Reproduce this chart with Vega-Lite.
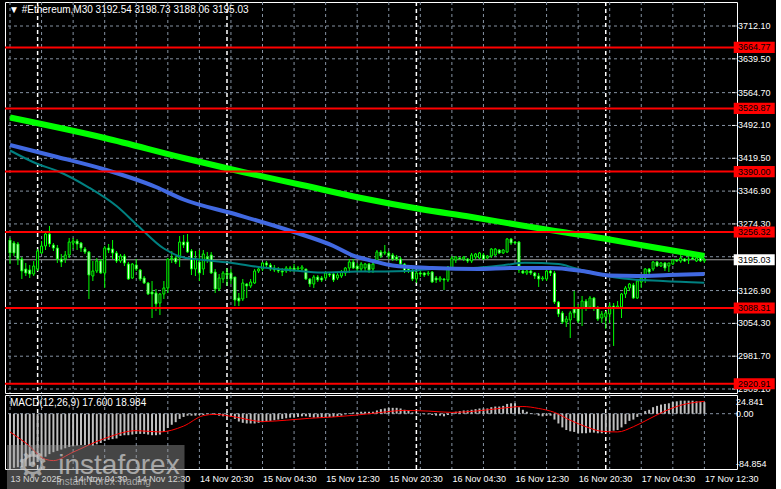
{
"$schema":"https://vega.github.io/schema/vega-lite/v6.json",
"background":"#000000",
"padding":{"left":3,"top":0,"right":0,"bottom":0},
"spacing":2,
"bounds":"flush",
"config":{
 "view":{"stroke":"#ffffff","strokeWidth":1},
 "axis":{"labelFont":"Liberation Sans","labelFontSize":9,"labelColor":"#ffffff","tickColor":"#ffffff","domain":false,"grid":false,"labelOverlap":false}
},
"datasets":{
 "days":[{"t":"2025-11-14T00:00"},{"t":"2025-11-15T00:00"},{"t":"2025-11-16T00:00"},{"t":"2025-11-17T00:00"}],
 "vgrid":[{"t":"2025-11-13T20:30"},{"t":"2025-11-14T00:30"},{"t":"2025-11-14T04:30"},{"t":"2025-11-14T08:30"},{"t":"2025-11-14T12:30"},{"t":"2025-11-14T16:30"},{"t":"2025-11-14T20:30"},{"t":"2025-11-15T00:30"},{"t":"2025-11-15T04:30"},{"t":"2025-11-15T08:30"},{"t":"2025-11-15T12:30"},{"t":"2025-11-15T16:30"},{"t":"2025-11-15T20:30"},{"t":"2025-11-16T00:30"},{"t":"2025-11-16T04:30"},{"t":"2025-11-16T08:30"},{"t":"2025-11-16T12:30"},{"t":"2025-11-16T16:30"},{"t":"2025-11-16T20:30"},{"t":"2025-11-17T00:30"},{"t":"2025-11-17T04:30"},{"t":"2025-11-17T08:30"},{"t":"2025-11-17T12:30"}],
 "hgrid":[{"p":3712.1},{"p":3639.5},{"p":3564.7},{"p":3492.1},{"p":3419.5},{"p":3346.9},{"p":3274.3},{"p":3201.7},{"p":3126.9},{"p":3054.3},{"p":2981.7},{"p":2909.1}],
 "levels":[{"p":3664.77},{"p":3529.87},{"p":3390.00},{"p":3256.32},{"p":3088.31},{"p":2920.91}],
 "bid":[{"p":3195.03}],
 "ma":[
  {"t":"2025-11-13T20:30","k":"slow","v":3509.7},{"t":"2025-11-14T08:30","k":"slow","v":3464.4},{"t":"2025-11-14T18:30","k":"slow","v":3420.1},{"t":"2025-11-15T02:00","k":"slow","v":3389.1},{"t":"2025-11-15T09:30","k":"slow","v":3360.4},{"t":"2025-11-15T17:00","k":"slow","v":3331.6},{"t":"2025-11-16T00:30","k":"slow","v":3307.3},{"t":"2025-11-16T07:00","k":"slow","v":3289.6},{"t":"2025-11-16T13:00","k":"slow","v":3271.9},{"t":"2025-11-16T18:30","k":"slow","v":3256.4},{"t":"2025-11-17T00:30","k":"slow","v":3239.8},{"t":"2025-11-17T05:30","k":"slow","v":3224.4},{"t":"2025-11-17T12:30","k":"slow","v":3203.3},
  {"t":"2025-11-13T20:30","k":"mid","v":3448.9},{"t":"2025-11-14T02:30","k":"mid","v":3422.3},{"t":"2025-11-14T08:30","k":"mid","v":3394.7},{"t":"2025-11-14T15:00","k":"mid","v":3356.0},{"t":"2025-11-14T18:30","k":"mid","v":3328.3},{"t":"2025-11-15T01:00","k":"mid","v":3296.2},{"t":"2025-11-15T08:30","k":"mid","v":3256.4},{"t":"2025-11-15T13:30","k":"mid","v":3225.5},{"t":"2025-11-15T16:00","k":"mid","v":3204.4},{"t":"2025-11-15T18:30","k":"mid","v":3192.3},{"t":"2025-11-15T21:00","k":"mid","v":3182.3},{"t":"2025-11-16T02:00","k":"mid","v":3176.8},{"t":"2025-11-16T08:00","k":"mid","v":3174.6},{"t":"2025-11-16T12:00","k":"mid","v":3176.8},{"t":"2025-11-16T17:00","k":"mid","v":3176.8},{"t":"2025-11-16T21:00","k":"mid","v":3170.2},{"t":"2025-11-17T00:30","k":"mid","v":3160.2},{"t":"2025-11-17T04:00","k":"mid","v":3159.1},{"t":"2025-11-17T08:00","k":"mid","v":3161.3},{"t":"2025-11-17T12:30","k":"mid","v":3163.5},
  {"t":"2025-11-13T20:30","k":"fast","v":3436.7},{"t":"2025-11-14T00:00","k":"fast","v":3406.8},{"t":"2025-11-14T02:30","k":"fast","v":3391.4},{"t":"2025-11-14T06:30","k":"fast","v":3354.8},{"t":"2025-11-14T10:00","k":"fast","v":3313.9},{"t":"2025-11-14T12:45","k":"fast","v":3269.7},{"t":"2025-11-14T16:00","k":"fast","v":3219.9},{"t":"2025-11-14T18:30","k":"fast","v":3200.0},{"t":"2025-11-14T20:30","k":"fast","v":3195.6},{"t":"2025-11-15T00:15","k":"fast","v":3188.9},{"t":"2025-11-15T04:30","k":"fast","v":3177.9},{"t":"2025-11-15T08:30","k":"fast","v":3171.3},{"t":"2025-11-15T12:00","k":"fast","v":3166.8},{"t":"2025-11-15T16:30","k":"fast","v":3169.0},{"t":"2025-11-15T20:00","k":"fast","v":3169.0},{"t":"2025-11-15T23:00","k":"fast","v":3170.1},{"t":"2025-11-16T02:15","k":"fast","v":3175.2},{"t":"2025-11-16T07:45","k":"fast","v":3177.5},{"t":"2025-11-16T11:00","k":"fast","v":3182.8},{"t":"2025-11-16T13:45","k":"fast","v":3188.5},{"t":"2025-11-16T18:00","k":"fast","v":3185.6},{"t":"2025-11-16T20:00","k":"fast","v":3176.8},{"t":"2025-11-16T22:00","k":"fast","v":3166.8},{"t":"2025-11-17T02:15","k":"fast","v":3153.6},{"t":"2025-11-17T07:15","k":"fast","v":3148.0},{"t":"2025-11-17T12:30","k":"fast","v":3144.3}
 ],
 "sig":[
  {"t":"2025-11-13T20:30","s":-28},{"t":"2025-11-13T22:30","s":-45},{"t":"2025-11-14T01:00","s":-70},{"t":"2025-11-14T02:00","s":-72},{"t":"2025-11-14T04:30","s":-59},{"t":"2025-11-14T08:30","s":-38},{"t":"2025-11-14T12:30","s":-26},{"t":"2025-11-14T15:30","s":-28},{"t":"2025-11-14T18:30","s":-19},{"t":"2025-11-14T21:00","s":-3},{"t":"2025-11-14T22:30","s":-1},{"t":"2025-11-15T01:00","s":-5},{"t":"2025-11-15T04:30","s":-12},{"t":"2025-11-15T07:30","s":-10},{"t":"2025-11-15T10:30","s":-7},{"t":"2025-11-15T13:30","s":-5},{"t":"2025-11-15T16:30","s":-2},{"t":"2025-11-15T19:30","s":2},{"t":"2025-11-15T22:30","s":5},{"t":"2025-11-16T01:30","s":4},{"t":"2025-11-16T04:30","s":2},{"t":"2025-11-16T07:30","s":4},{"t":"2025-11-16T10:30","s":8},{"t":"2025-11-16T13:30","s":11},{"t":"2025-11-16T15:30","s":8},{"t":"2025-11-16T17:30","s":2},{"t":"2025-11-16T19:30","s":-10},{"t":"2025-11-16T21:30","s":-20},{"t":"2025-11-16T23:30","s":-27},{"t":"2025-11-17T01:30","s":-28},{"t":"2025-11-17T03:30","s":-20},{"t":"2025-11-17T05:30","s":-8},{"t":"2025-11-17T07:30","s":4},{"t":"2025-11-17T09:30","s":13},{"t":"2025-11-17T12:30","s":18.984}
 ],
 "bars":[
{"t":"2025-11-13T20:30","o":3238.7,"h":3243.2,"l":3185.6,"c":3210.0,"m":-84.8},
{"t":"2025-11-13T21:00","o":3232.1,"h":3236.5,"l":3203.3,"c":3210.0,"m":-83},
{"t":"2025-11-13T21:30","o":3229.9,"h":3234.3,"l":3183.4,"c":3196.7,"m":-82},
{"t":"2025-11-13T22:00","o":3196.7,"h":3201.1,"l":3152.5,"c":3170.2,"m":-82},
{"t":"2025-11-13T22:30","o":3174.6,"h":3187.9,"l":3159.1,"c":3165.7,"m":-81},
{"t":"2025-11-13T23:00","o":3172.4,"h":3183.4,"l":3154.7,"c":3163.5,"m":-80},
{"t":"2025-11-13T23:30","o":3163.5,"h":3192.3,"l":3159.1,"c":3181.2,"m":-78},
{"t":"2025-11-14T00:00","o":3174.6,"h":3218.8,"l":3170.2,"c":3214.4,"m":-74},
{"t":"2025-11-14T00:30","o":3210.0,"h":3236.5,"l":3207.8,"c":3225.5,"m":-70},
{"t":"2025-11-14T01:00","o":3225.5,"h":3258.6,"l":3216.6,"c":3252.0,"m":-66},
{"t":"2025-11-14T01:30","o":3252.0,"h":3269.7,"l":3223.2,"c":3229.9,"m":-62},
{"t":"2025-11-14T02:00","o":3227.7,"h":3232.1,"l":3214.4,"c":3221.0,"m":-59},
{"t":"2025-11-14T02:30","o":3221.0,"h":3227.7,"l":3187.9,"c":3196.7,"m":-57},
{"t":"2025-11-14T03:00","o":3196.7,"h":3207.8,"l":3179.0,"c":3190.1,"m":-55},
{"t":"2025-11-14T03:30","o":3196.7,"h":3214.4,"l":3187.9,"c":3205.6,"m":-53},
{"t":"2025-11-14T04:00","o":3205.6,"h":3243.2,"l":3198.9,"c":3234.3,"m":-51},
{"t":"2025-11-14T04:30","o":3232.1,"h":3243.2,"l":3218.8,"c":3236.5,"m":-50},
{"t":"2025-11-14T05:00","o":3236.5,"h":3241.0,"l":3216.6,"c":3229.9,"m":-49},
{"t":"2025-11-14T05:30","o":3232.1,"h":3234.3,"l":3212.2,"c":3221.0,"m":-48},
{"t":"2025-11-14T06:00","o":3218.8,"h":3223.2,"l":3207.8,"c":3212.2,"m":-48},
{"t":"2025-11-14T06:30","o":3212.2,"h":3214.4,"l":3108.2,"c":3161.3,"m":-48},
{"t":"2025-11-14T07:00","o":3159.1,"h":3192.3,"l":3148.0,"c":3170.2,"m":-49},
{"t":"2025-11-14T07:30","o":3170.2,"h":3198.9,"l":3165.7,"c":3192.3,"m":-47},
{"t":"2025-11-14T08:00","o":3192.3,"h":3196.7,"l":3163.5,"c":3165.7,"m":-45},
{"t":"2025-11-14T08:30","o":3165.7,"h":3225.5,"l":3132.6,"c":3221.0,"m":-42},
{"t":"2025-11-14T09:00","o":3221.0,"h":3229.9,"l":3210.0,"c":3216.6,"m":-40},
{"t":"2025-11-14T09:30","o":3218.8,"h":3238.7,"l":3196.7,"c":3210.0,"m":-39},
{"t":"2025-11-14T10:00","o":3210.0,"h":3214.4,"l":3187.9,"c":3192.3,"m":-38},
{"t":"2025-11-14T10:30","o":3192.3,"h":3207.8,"l":3187.9,"c":3203.3,"m":-34},
{"t":"2025-11-14T11:00","o":3203.3,"h":3207.8,"l":3181.2,"c":3187.9,"m":-33},
{"t":"2025-11-14T11:30","o":3185.6,"h":3190.1,"l":3150.3,"c":3152.5,"m":-33},
{"t":"2025-11-14T12:00","o":3154.7,"h":3187.9,"l":3152.5,"c":3185.6,"m":-32},
{"t":"2025-11-14T12:30","o":3183.4,"h":3196.7,"l":3170.2,"c":3174.6,"m":-31},
{"t":"2025-11-14T13:00","o":3172.4,"h":3174.6,"l":3148.0,"c":3152.5,"m":-31},
{"t":"2025-11-14T13:30","o":3154.7,"h":3159.1,"l":3141.4,"c":3143.6,"m":-31},
{"t":"2025-11-14T14:00","o":3143.6,"h":3145.8,"l":3117.1,"c":3119.3,"m":-32},
{"t":"2025-11-14T14:30","o":3123.7,"h":3148.0,"l":3066.2,"c":3119.3,"m":-33},
{"t":"2025-11-14T15:00","o":3121.5,"h":3130.3,"l":3081.7,"c":3097.2,"m":-33},
{"t":"2025-11-14T15:30","o":3099.4,"h":3121.5,"l":3072.8,"c":3119.3,"m":-32},
{"t":"2025-11-14T16:00","o":3119.3,"h":3148.0,"l":3108.2,"c":3132.6,"m":-28},
{"t":"2025-11-14T16:30","o":3132.6,"h":3198.9,"l":3121.5,"c":3196.7,"m":-22},
{"t":"2025-11-14T17:00","o":3196.7,"h":3214.4,"l":3187.9,"c":3198.9,"m":-17},
{"t":"2025-11-14T17:30","o":3198.9,"h":3203.3,"l":3185.6,"c":3190.1,"m":-13},
{"t":"2025-11-14T18:00","o":3198.9,"h":3247.6,"l":3179.0,"c":3234.3,"m":-8},
{"t":"2025-11-14T18:30","o":3234.3,"h":3249.8,"l":3221.0,"c":3227.7,"m":-5},
{"t":"2025-11-14T19:00","o":3234.3,"h":3252.0,"l":3210.0,"c":3212.2,"m":-3},
{"t":"2025-11-14T19:30","o":3214.4,"h":3218.8,"l":3161.3,"c":3174.6,"m":-3},
{"t":"2025-11-14T20:00","o":3174.6,"h":3214.4,"l":3159.1,"c":3196.7,"m":-3},
{"t":"2025-11-14T20:30","o":3190.1,"h":3216.6,"l":3148.0,"c":3165.7,"m":-2},
{"t":"2025-11-14T21:00","o":3174.6,"h":3216.6,"l":3161.3,"c":3207.8,"m":-2},
{"t":"2025-11-14T21:30","o":3201.1,"h":3212.2,"l":3187.9,"c":3196.7,"m":-1},
{"t":"2025-11-14T22:00","o":3205.6,"h":3212.2,"l":3163.5,"c":3165.7,"m":-1},
{"t":"2025-11-14T22:30","o":3167.9,"h":3174.6,"l":3121.5,"c":3130.3,"m":-2},
{"t":"2025-11-14T23:00","o":3130.3,"h":3163.5,"l":3125.9,"c":3154.7,"m":-3},
{"t":"2025-11-14T23:30","o":3152.5,"h":3170.2,"l":3143.6,"c":3165.7,"m":-4},
{"t":"2025-11-15T00:00","o":3165.7,"h":3176.8,"l":3137.0,"c":3161.3,"m":-4},
{"t":"2025-11-15T00:30","o":3165.7,"h":3174.6,"l":3141.4,"c":3152.5,"m":-5},
{"t":"2025-11-15T01:00","o":3156.9,"h":3156.9,"l":3092.7,"c":3106.0,"m":-8},
{"t":"2025-11-15T01:30","o":3110.4,"h":3121.5,"l":3092.7,"c":3103.8,"m":-12},
{"t":"2025-11-15T02:00","o":3108.2,"h":3152.5,"l":3103.8,"c":3143.6,"m":-14},
{"t":"2025-11-15T02:30","o":3141.4,"h":3143.6,"l":3110.4,"c":3137.0,"m":-15},
{"t":"2025-11-15T03:00","o":3137.0,"h":3152.5,"l":3132.6,"c":3145.8,"m":-15},
{"t":"2025-11-15T03:30","o":3143.6,"h":3174.6,"l":3141.4,"c":3170.2,"m":-15},
{"t":"2025-11-15T04:00","o":3170.2,"h":3179.0,"l":3165.7,"c":3174.6,"m":-14},
{"t":"2025-11-15T04:30","o":3174.6,"h":3190.1,"l":3170.2,"c":3187.9,"m":-13},
{"t":"2025-11-15T05:00","o":3187.9,"h":3192.3,"l":3179.0,"c":3183.4,"m":-12},
{"t":"2025-11-15T05:30","o":3183.4,"h":3187.9,"l":3170.2,"c":3174.6,"m":-11},
{"t":"2025-11-15T06:00","o":3176.8,"h":3183.4,"l":3167.9,"c":3172.4,"m":-10},
{"t":"2025-11-15T06:30","o":3174.6,"h":3179.0,"l":3165.7,"c":3170.2,"m":-9},
{"t":"2025-11-15T07:00","o":3170.2,"h":3176.8,"l":3159.1,"c":3167.9,"m":-8},
{"t":"2025-11-15T07:30","o":3170.2,"h":3181.2,"l":3165.7,"c":3176.8,"m":-7},
{"t":"2025-11-15T08:00","o":3174.6,"h":3181.2,"l":3167.9,"c":3176.8,"m":-6},
{"t":"2025-11-15T08:30","o":3176.8,"h":3185.6,"l":3167.9,"c":3172.4,"m":-6},
{"t":"2025-11-15T09:00","o":3174.6,"h":3181.2,"l":3170.2,"c":3176.8,"m":-5},
{"t":"2025-11-15T09:30","o":3174.6,"h":3183.4,"l":3170.2,"c":3179.0,"m":-4},
{"t":"2025-11-15T10:00","o":3174.6,"h":3174.6,"l":3150.3,"c":3152.5,"m":-4},
{"t":"2025-11-15T10:30","o":3152.5,"h":3154.7,"l":3134.8,"c":3141.4,"m":-5},
{"t":"2025-11-15T11:00","o":3141.4,"h":3161.3,"l":3132.6,"c":3156.9,"m":-6},
{"t":"2025-11-15T11:30","o":3156.9,"h":3161.3,"l":3145.8,"c":3150.3,"m":-6},
{"t":"2025-11-15T12:00","o":3154.7,"h":3159.1,"l":3145.8,"c":3150.3,"m":-6},
{"t":"2025-11-15T12:30","o":3154.7,"h":3170.2,"l":3150.3,"c":3165.7,"m":-6},
{"t":"2025-11-15T13:00","o":3163.5,"h":3167.9,"l":3156.9,"c":3161.3,"m":-5},
{"t":"2025-11-15T13:30","o":3163.5,"h":3165.7,"l":3145.8,"c":3150.3,"m":-5},
{"t":"2025-11-15T14:00","o":3154.7,"h":3165.7,"l":3150.3,"c":3161.3,"m":-4},
{"t":"2025-11-15T14:30","o":3159.1,"h":3172.4,"l":3154.7,"c":3167.9,"m":-3},
{"t":"2025-11-15T15:00","o":3165.7,"h":3179.0,"l":3159.1,"c":3176.8,"m":-1},
{"t":"2025-11-15T15:30","o":3176.8,"h":3196.7,"l":3165.7,"c":3190.1,"m":1},
{"t":"2025-11-15T16:00","o":3190.1,"h":3196.7,"l":3174.6,"c":3176.8,"m":2},
{"t":"2025-11-15T16:30","o":3181.2,"h":3187.9,"l":3170.2,"c":3174.6,"m":2},
{"t":"2025-11-15T17:00","o":3174.6,"h":3190.1,"l":3170.2,"c":3185.6,"m":3},
{"t":"2025-11-15T17:30","o":3176.8,"h":3187.9,"l":3170.2,"c":3185.6,"m":3},
{"t":"2025-11-15T18:00","o":3185.6,"h":3187.9,"l":3165.7,"c":3172.4,"m":3},
{"t":"2025-11-15T18:30","o":3174.6,"h":3187.9,"l":3165.7,"c":3185.6,"m":3},
{"t":"2025-11-15T19:00","o":3192.3,"h":3216.6,"l":3187.9,"c":3212.2,"m":5},
{"t":"2025-11-15T19:30","o":3212.2,"h":3216.6,"l":3198.9,"c":3203.3,"m":7},
{"t":"2025-11-15T20:00","o":3210.0,"h":3227.7,"l":3205.6,"c":3212.2,"m":8},
{"t":"2025-11-15T20:30","o":3210.0,"h":3214.4,"l":3196.7,"c":3203.3,"m":9},
{"t":"2025-11-15T21:00","o":3205.6,"h":3210.0,"l":3192.3,"c":3196.7,"m":9},
{"t":"2025-11-15T21:30","o":3201.1,"h":3205.6,"l":3192.3,"c":3196.7,"m":9},
{"t":"2025-11-15T22:00","o":3196.7,"h":3201.1,"l":3181.2,"c":3185.6,"m":8},
{"t":"2025-11-15T22:30","o":3185.6,"h":3187.9,"l":3165.7,"c":3170.2,"m":6},
{"t":"2025-11-15T23:00","o":3174.6,"h":3179.0,"l":3165.7,"c":3170.2,"m":5},
{"t":"2025-11-15T23:30","o":3170.2,"h":3174.6,"l":3148.0,"c":3152.5,"m":2},
{"t":"2025-11-16T00:00","o":3152.5,"h":3170.2,"l":3143.6,"c":3165.7,"m":1},
{"t":"2025-11-16T00:30","o":3165.7,"h":3170.2,"l":3156.9,"c":3163.5,"m":0},
{"t":"2025-11-16T01:00","o":3165.7,"h":3167.9,"l":3156.9,"c":3161.3,"m":-1},
{"t":"2025-11-16T01:30","o":3163.5,"h":3170.2,"l":3159.1,"c":3165.7,"m":-1},
{"t":"2025-11-16T02:00","o":3167.9,"h":3170.2,"l":3143.6,"c":3145.8,"m":-2},
{"t":"2025-11-16T02:30","o":3154.7,"h":3159.1,"l":3143.6,"c":3150.3,"m":-3},
{"t":"2025-11-16T03:00","o":3150.3,"h":3159.1,"l":3145.8,"c":3154.7,"m":-3},
{"t":"2025-11-16T03:30","o":3152.5,"h":3154.7,"l":3128.1,"c":3150.3,"m":-4},
{"t":"2025-11-16T04:00","o":3150.3,"h":3181.2,"l":3145.8,"c":3179.0,"m":-2},
{"t":"2025-11-16T04:30","o":3176.8,"h":3203.3,"l":3174.6,"c":3198.9,"m":1},
{"t":"2025-11-16T05:00","o":3194.5,"h":3203.3,"l":3187.9,"c":3201.1,"m":3},
{"t":"2025-11-16T05:30","o":3198.9,"h":3201.1,"l":3194.5,"c":3196.7,"m":4},
{"t":"2025-11-16T06:00","o":3196.7,"h":3203.3,"l":3192.3,"c":3201.1,"m":5},
{"t":"2025-11-16T06:30","o":3196.7,"h":3198.9,"l":3187.9,"c":3192.3,"m":5},
{"t":"2025-11-16T07:00","o":3192.3,"h":3210.0,"l":3187.9,"c":3205.6,"m":6},
{"t":"2025-11-16T07:30","o":3201.1,"h":3210.0,"l":3196.7,"c":3207.8,"m":7},
{"t":"2025-11-16T08:00","o":3198.9,"h":3212.2,"l":3196.7,"c":3210.0,"m":8},
{"t":"2025-11-16T08:30","o":3205.6,"h":3210.0,"l":3194.5,"c":3196.7,"m":8},
{"t":"2025-11-16T09:00","o":3198.9,"h":3205.6,"l":3196.7,"c":3203.3,"m":8},
{"t":"2025-11-16T09:30","o":3203.3,"h":3221.0,"l":3198.9,"c":3218.8,"m":10},
{"t":"2025-11-16T10:00","o":3205.6,"h":3221.0,"l":3203.3,"c":3218.8,"m":11},
{"t":"2025-11-16T10:30","o":3216.6,"h":3218.8,"l":3207.8,"c":3210.0,"m":11},
{"t":"2025-11-16T11:00","o":3210.0,"h":3218.8,"l":3207.8,"c":3216.6,"m":12},
{"t":"2025-11-16T11:30","o":3212.2,"h":3243.2,"l":3210.0,"c":3241.0,"m":15},
{"t":"2025-11-16T12:00","o":3241.0,"h":3243.2,"l":3227.7,"c":3232.1,"m":16},
{"t":"2025-11-16T12:30","o":3234.3,"h":3236.5,"l":3229.9,"c":3232.1,"m":16},
{"t":"2025-11-16T13:00","o":3234.3,"h":3236.5,"l":3165.7,"c":3172.4,"m":10},
{"t":"2025-11-16T13:30","o":3170.2,"h":3174.6,"l":3163.5,"c":3165.7,"m":6},
{"t":"2025-11-16T14:00","o":3165.7,"h":3174.6,"l":3161.3,"c":3170.2,"m":3},
{"t":"2025-11-16T14:30","o":3170.2,"h":3174.6,"l":3161.3,"c":3165.7,"m":1},
{"t":"2025-11-16T15:00","o":3165.7,"h":3167.9,"l":3152.5,"c":3159.1,"m":-1},
{"t":"2025-11-16T15:30","o":3159.1,"h":3165.7,"l":3134.8,"c":3152.5,"m":-3},
{"t":"2025-11-16T16:00","o":3152.5,"h":3159.1,"l":3148.0,"c":3154.7,"m":-4},
{"t":"2025-11-16T16:30","o":3152.5,"h":3174.6,"l":3148.0,"c":3170.2,"m":-3},
{"t":"2025-11-16T17:00","o":3170.2,"h":3172.4,"l":3159.1,"c":3165.7,"m":-3},
{"t":"2025-11-16T17:30","o":3165.7,"h":3170.2,"l":3097.2,"c":3101.6,"m":-9},
{"t":"2025-11-16T18:00","o":3101.6,"h":3103.8,"l":3068.4,"c":3075.0,"m":-15},
{"t":"2025-11-16T18:30","o":3077.3,"h":3081.7,"l":3052.9,"c":3057.3,"m":-21},
{"t":"2025-11-16T19:00","o":3057.3,"h":3070.6,"l":3046.3,"c":3064.0,"m":-25},
{"t":"2025-11-16T19:30","o":3061.8,"h":3081.7,"l":3022.0,"c":3077.3,"m":-27},
{"t":"2025-11-16T20:00","o":3086.1,"h":3125.9,"l":3066.2,"c":3077.3,"m":-28},
{"t":"2025-11-16T20:30","o":3088.3,"h":3097.2,"l":3055.1,"c":3059.6,"m":-30},
{"t":"2025-11-16T21:00","o":3088.3,"h":3114.9,"l":3048.5,"c":3103.8,"m":-30},
{"t":"2025-11-16T21:30","o":3103.8,"h":3108.2,"l":3081.7,"c":3088.3,"m":-30},
{"t":"2025-11-16T22:00","o":3090.5,"h":3114.9,"l":3086.1,"c":3110.4,"m":-29},
{"t":"2025-11-16T22:30","o":3110.4,"h":3112.6,"l":3081.7,"c":3088.3,"m":-29},
{"t":"2025-11-16T23:00","o":3088.3,"h":3092.7,"l":3059.6,"c":3064.0,"m":-30},
{"t":"2025-11-16T23:30","o":3066.2,"h":3081.7,"l":3055.1,"c":3075.0,"m":-30},
{"t":"2025-11-17T00:00","o":3068.4,"h":3081.7,"l":3041.9,"c":3077.3,"m":-29},
{"t":"2025-11-17T00:30","o":3075.0,"h":3099.4,"l":3055.1,"c":3092.7,"m":-27},
{"t":"2025-11-17T01:00","o":3092.7,"h":3099.4,"l":3004.3,"c":3088.3,"m":-26},
{"t":"2025-11-17T01:30","o":3090.5,"h":3103.8,"l":3088.3,"c":3092.7,"m":-25},
{"t":"2025-11-17T02:00","o":3090.5,"h":3121.5,"l":3066.2,"c":3119.3,"m":-21},
{"t":"2025-11-17T02:30","o":3119.3,"h":3137.0,"l":3110.4,"c":3132.6,"m":-16},
{"t":"2025-11-17T03:00","o":3132.6,"h":3143.6,"l":3125.9,"c":3141.4,"m":-11},
{"t":"2025-11-17T03:30","o":3139.2,"h":3143.6,"l":3108.2,"c":3110.4,"m":-9},
{"t":"2025-11-17T04:00","o":3110.4,"h":3152.5,"l":3108.2,"c":3148.0,"m":-5},
{"t":"2025-11-17T04:30","o":3145.8,"h":3159.1,"l":3132.6,"c":3154.7,"m":-1},
{"t":"2025-11-17T05:00","o":3154.7,"h":3176.8,"l":3143.6,"c":3174.6,"m":4},
{"t":"2025-11-17T05:30","o":3174.6,"h":3176.8,"l":3163.5,"c":3167.9,"m":6},
{"t":"2025-11-17T06:00","o":3174.6,"h":3192.3,"l":3170.2,"c":3190.1,"m":10},
{"t":"2025-11-17T06:30","o":3190.1,"h":3192.3,"l":3179.0,"c":3181.2,"m":12},
{"t":"2025-11-17T07:00","o":3181.2,"h":3190.1,"l":3179.0,"c":3187.9,"m":14},
{"t":"2025-11-17T07:30","o":3187.9,"h":3190.1,"l":3170.2,"c":3176.8,"m":15},
{"t":"2025-11-17T08:00","o":3181.2,"h":3187.9,"l":3167.9,"c":3187.9,"m":16},
{"t":"2025-11-17T08:30","o":3185.6,"h":3196.7,"l":3183.4,"c":3194.5,"m":18},
{"t":"2025-11-17T09:00","o":3194.5,"h":3196.7,"l":3190.1,"c":3192.3,"m":19},
{"t":"2025-11-17T09:30","o":3192.3,"h":3205.6,"l":3187.9,"c":3198.9,"m":20},
{"t":"2025-11-17T10:00","o":3196.7,"h":3198.9,"l":3190.1,"c":3192.3,"m":20},
{"t":"2025-11-17T10:30","o":3194.5,"h":3201.1,"l":3185.6,"c":3196.7,"m":20},
{"t":"2025-11-17T11:00","o":3198.9,"h":3201.1,"l":3194.5,"c":3196.7,"m":20},
{"t":"2025-11-17T11:30","o":3192.3,"h":3201.1,"l":3190.1,"c":3198.9,"m":19},
{"t":"2025-11-17T12:00","o":3198.9,"h":3201.1,"l":3190.1,"c":3192.5,"m":18.5},
{"t":"2025-11-17T12:30","o":3192.54,"h":3198.73,"l":3188.06,"c":3195.03,"m":17.6}
 ]
},
"vconcat":[
{
 "width":732,"height":391,
 "title":{"text":"▼ #Ethereum,M30  3192.54 3198.73 3188.06 3195.03","anchor":"start","frame":"group","offset":-14,"dx":4,"fontSize":10,"color":"#ffffff","font":"Liberation Sans, DejaVu Sans","fontWeight":"normal"},
 "layer":[
  {"data":{"name":"vgrid"},"mark":{"type":"rule","color":"#8592a2","strokeDash":[3,3],"strokeWidth":1},
   "encoding":{"x":{"field":"t","type":"temporal","title":null,"scale":{"domain":[{"year":2025,"month":11,"date":13,"hours":20,"minutes":30},{"year":2025,"month":11,"date":17,"hours":16,"minutes":0}],"nice":false},
    "axis":{"labels":false,"ticks":false,"domain":false,"grid":false,"title":null}}}},
  {"data":{"name":"hgrid"},"mark":{"type":"rule","color":"#8592a2","strokeDash":[3,3],"strokeWidth":1},
   "encoding":{"y":{"field":"p","type":"quantitative","title":null,"scale":{"domain":[2900.3,3765.2],"nice":false,"zero":false},
    "axis":{"labels":false,"ticks":false,"domain":false,"grid":false,"title":null}}}},
  {"data":{"name":"hgrid"},"mark":{"type":"rule","color":"#ffffff","strokeWidth":1},
   "encoding":{"x":{"datum":{"year":2025,"month":11,"date":17,"hours":16,"minutes":0},"type":"temporal","title":null},"x2":{"datum":{"year":2025,"month":11,"date":17,"hours":16,"minutes":22}},"y":{"field":"p","type":"quantitative","title":null}}},
  {"data":{"name":"hgrid"},"transform":[{"filter":"datum.p != 3201.7"}],"mark":{"type":"text","align":"left","baseline":"middle","color":"#ffffff","font":"Liberation Sans","fontSize":9},
   "encoding":{"x":{"datum":{"year":2025,"month":11,"date":17,"hours":16,"minutes":45},"type":"temporal","title":null},"y":{"field":"p","type":"quantitative","title":null},"text":{"field":"p","type":"quantitative","format":".2f"}}},
  {"data":{"name":"days"},"mark":{"type":"rule","color":"#ffffff","strokeDash":[4,3],"strokeWidth":1.5},
   "encoding":{"x":{"field":"t","type":"temporal","title":null}}},
  {"data":{"name":"bid"},"mark":{"type":"rule","color":"#a0a0a0","strokeWidth":1},
   "encoding":{"y":{"field":"p","type":"quantitative","title":null}}},
  {"data":{"name":"bars"},"mark":{"type":"rule","color":"#00ff00","strokeWidth":1,"clip":true},
   "encoding":{"x":{"field":"t","type":"temporal","title":null},"y":{"field":"l","type":"quantitative","title":null},"y2":{"field":"h"}}},
  {"data":{"name":"bars"},"mark":{"type":"bar","width":2,"stroke":"#00ff00","strokeWidth":1,"clip":true},
   "encoding":{"x":{"field":"t","type":"temporal","title":null},"y":{"field":"o","type":"quantitative","title":null},"y2":{"field":"c"},
    "fill":{"condition":{"test":"datum.c >= datum.o","value":"#000000"},"value":"#ffffff"}}},
  {"data":{"name":"ma"},"transform":[{"filter":"datum.k == 'fast'"}],"mark":{"type":"line","color":"#008080","strokeWidth":2,"interpolate":"monotone","clip":true},
   "encoding":{"x":{"field":"t","type":"temporal","title":null},"y":{"field":"v","type":"quantitative","title":null}}},
  {"data":{"name":"ma"},"transform":[{"filter":"datum.k == 'mid'"}],"mark":{"type":"line","color":"#4169e1","strokeWidth":4,"interpolate":"monotone","clip":true},
   "encoding":{"x":{"field":"t","type":"temporal","title":null},"y":{"field":"v","type":"quantitative","title":null}}},
  {"data":{"name":"ma"},"transform":[{"filter":"datum.k == 'slow'"}],"mark":{"type":"line","color":"#00ff00","strokeWidth":6,"interpolate":"monotone","clip":true},
   "encoding":{"x":{"field":"t","type":"temporal","title":null},"y":{"field":"v","type":"quantitative","title":null}}},
  {"data":{"name":"levels"},"mark":{"type":"rule","color":"#ff0000","strokeWidth":2},
   "encoding":{"y":{"field":"p","type":"quantitative","title":null}}},
  {"data":{"name":"levels"},"mark":{"type":"point","shape":"M-1,-0.27L1,-0.27L1,0.27L-1,0.27Z","size":1681,"filled":true,"color":"#ff0000","opacity":1,"strokeWidth":0},
   "encoding":{"x":{"datum":{"year":2025,"month":11,"date":17,"hours":18,"minutes":49},"type":"temporal","title":null},"y":{"field":"p","type":"quantitative","title":null}}},
  {"data":{"name":"levels"},"mark":{"type":"text","align":"left","baseline":"middle","color":"#000000","font":"Liberation Sans","fontSize":9},
   "encoding":{"x":{"datum":{"year":2025,"month":11,"date":17,"hours":16,"minutes":45},"type":"temporal","title":null},"y":{"field":"p","type":"quantitative","title":null},"text":{"field":"p","type":"quantitative","format":".2f"}}},
  {"data":{"name":"bid"},"mark":{"type":"point","shape":"M-1,-0.27L1,-0.27L1,0.27L-1,0.27Z","size":1681,"filled":true,"color":"#ffffff","opacity":1,"strokeWidth":0},
   "encoding":{"x":{"datum":{"year":2025,"month":11,"date":17,"hours":18,"minutes":49},"type":"temporal","title":null},"y":{"field":"p","type":"quantitative","title":null}}},
  {"data":{"name":"bid"},"mark":{"type":"text","align":"left","baseline":"middle","color":"#000000","font":"Liberation Sans","fontSize":9},
   "encoding":{"x":{"datum":{"year":2025,"month":11,"date":17,"hours":16,"minutes":45},"type":"temporal","title":null},"y":{"field":"p","type":"quantitative","title":null},"text":{"field":"p","type":"quantitative","format":".2f"}}}
 ]
},
{
 "width":732,"height":74,
 "title":{"text":"MACD(12,26,9) 17.600 18.984","anchor":"start","frame":"group","offset":-14,"dx":5,"fontSize":10,"color":"#ffffff","font":"Liberation Sans","fontWeight":"normal"},
 "layer":[
  {"data":{"name":"vgrid"},"mark":{"type":"rule","color":"#8592a2","strokeDash":[3,3],"strokeWidth":1},
   "encoding":{"x":{"field":"t","type":"temporal","title":null,"scale":{"domain":[{"year":2025,"month":11,"date":13,"hours":20,"minutes":30},{"year":2025,"month":11,"date":17,"hours":16,"minutes":0}],"nice":false},
    "axis":{"values":[{"year":2025,"month":11,"date":13,"hours":20,"minutes":30},{"year":2025,"month":11,"date":14,"hours":4,"minutes":30},{"year":2025,"month":11,"date":14,"hours":12,"minutes":30},{"year":2025,"month":11,"date":14,"hours":20,"minutes":30},{"year":2025,"month":11,"date":15,"hours":4,"minutes":30},{"year":2025,"month":11,"date":15,"hours":12,"minutes":30},{"year":2025,"month":11,"date":15,"hours":20,"minutes":30},{"year":2025,"month":11,"date":16,"hours":4,"minutes":30},{"year":2025,"month":11,"date":16,"hours":12,"minutes":30},{"year":2025,"month":11,"date":16,"hours":20,"minutes":30},{"year":2025,"month":11,"date":17,"hours":4,"minutes":30},{"year":2025,"month":11,"date":17,"hours":12,"minutes":30}],
     "grid":false,"ticks":false,"domain":false,"title":null,"labelAlign":"left","labelPadding":5,"labelFlush":false,"labelOverlap":false,
     "labelExpr":"date(datum.value) == 13 ? '13 Nov 2025' : timeFormat(datum.value, '%d %b %H:%M')"}}}},
  {"data":{"name":"days"},"mark":{"type":"rule","color":"#ffffff","strokeDash":[4,3],"strokeWidth":1.5},
   "encoding":{"x":{"field":"t","type":"temporal","title":null}}},
  {"data":{"values":[{}]},"mark":{"type":"rule","color":"#8592a2","strokeDash":[3,3],"strokeWidth":1},
   "encoding":{"y":{"datum":0,"type":"quantitative","title":null,"scale":{"domain":[-84.854,28.69],"nice":false,"zero":false},
    "axis":{"labels":false,"ticks":false,"domain":false,"grid":false,"title":null}}}},
  {"data":{"name":"bars"},"mark":{"type":"bar","width":2,"color":"#c0c0c0"},
   "encoding":{"x":{"field":"t","type":"temporal","title":null},"y":{"field":"m","type":"quantitative","title":null},"y2":{"datum":0}}},
  {"data":{"name":"sig"},"mark":{"type":"line","color":"#ff0000","strokeWidth":1,"interpolate":"monotone"},
   "encoding":{"x":{"field":"t","type":"temporal","title":null},"y":{"field":"s","type":"quantitative","title":null}}},
  {"data":{"values":[{}]},"mark":{"type":"text","text":"24.841","align":"left","baseline":"top","color":"#ffffff","font":"Liberation Sans","fontSize":9},
   "encoding":{"x":{"datum":{"year":2025,"month":11,"date":17,"hours":16,"minutes":30},"type":"temporal","title":null},"y":{"datum":24.841,"type":"quantitative","title":null}}},
  {"data":{"values":[{}]},"mark":{"type":"text","text":"0.00","align":"left","baseline":"middle","color":"#ffffff","font":"Liberation Sans","fontSize":9},
   "encoding":{"x":{"datum":{"year":2025,"month":11,"date":17,"hours":16,"minutes":30},"type":"temporal","title":null},"y":{"datum":0,"type":"quantitative","title":null}}},
  {"data":{"values":[{}]},"mark":{"type":"text","text":"-84.854","align":"left","baseline":"bottom","color":"#ffffff","font":"Liberation Sans","fontSize":9},
   "encoding":{"x":{"datum":{"year":2025,"month":11,"date":17,"hours":16,"minutes":30},"type":"temporal","title":null},"y":{"datum":-84.854,"type":"quantitative","title":null}}},
  {"data":{"values":[{}]},"mark":{"type":"rect","color":"#9a9a9a","opacity":0.45},
   "encoding":{"x":{"datum":{"year":2025,"month":11,"date":13,"hours":20,"minutes":7},"type":"temporal","title":null},"x2":{"datum":{"year":2025,"month":11,"date":14,"hours":18,"minutes":37}},
    "y":{"datum":-48,"type":"quantitative","title":null},"y2":{"datum":-118.6}}},
  {"data":{"values":[{}]},"mark":{"type":"text","text":"⚙","font":"DejaVu Sans","fontSize":36,"align":"center","baseline":"middle","color":"#c8c8c8","opacity":0.7},
   "encoding":{"x":{"datum":{"year":2025,"month":11,"date":13,"hours":23,"minutes":22},"type":"temporal","title":null},"y":{"datum":-80,"type":"quantitative","title":null}}},
  {"data":{"values":[{}]},"mark":{"type":"text","text":"instaforex","font":"Liberation Sans","fontSize":28,"align":"left","baseline":"alphabetic","color":"#d0d0d0","opacity":0.7},
   "encoding":{"x":{"datum":{"year":2025,"month":11,"date":14,"hours":2,"minutes":37},"type":"temporal","title":null},"y":{"datum":-92.5,"type":"quantitative","title":null}}},
  {"data":{"values":[{}]},"mark":{"type":"text","text":"Instant Forex Trading","font":"Liberation Sans","fontSize":10,"align":"left","baseline":"alphabetic","color":"#d0d0d0","opacity":0.7},
   "encoding":{"x":{"datum":{"year":2025,"month":11,"date":14,"hours":2,"minutes":22},"type":"temporal","title":null},"y":{"datum":-109.5,"type":"quantitative","title":null}}}
 ]
}
]
}
